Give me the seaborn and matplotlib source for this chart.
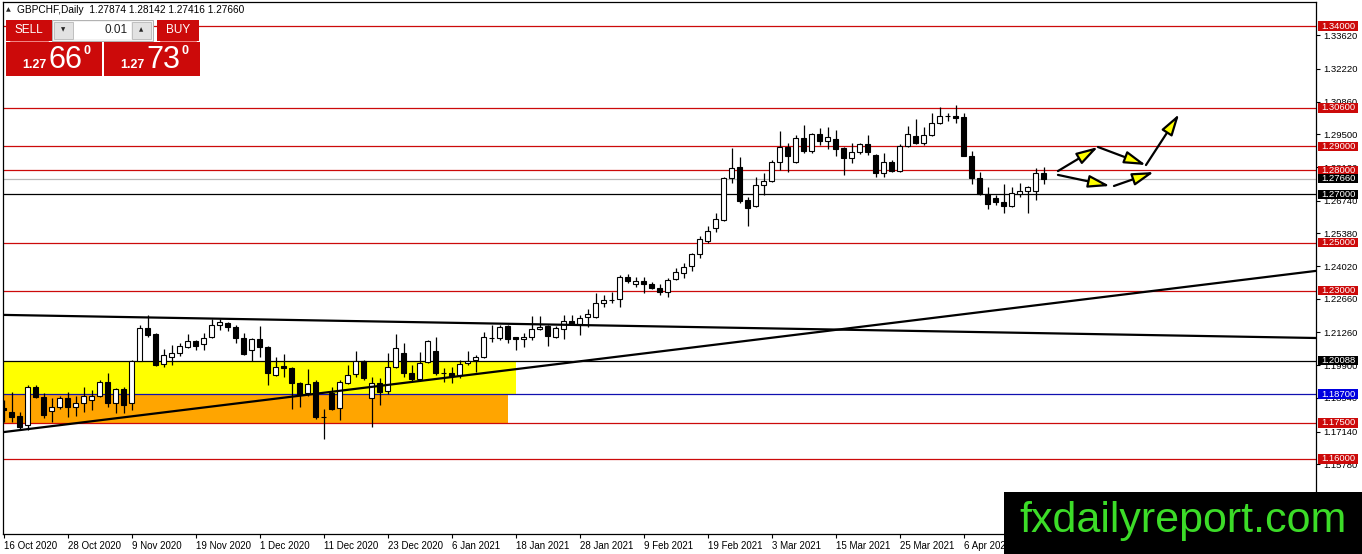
import numpy as np
import pandas as pd
import matplotlib
matplotlib.use("Agg")
import matplotlib.pyplot as plt
import seaborn as sns
from matplotlib.patches import Rectangle

# GBPCHF daily candles, 16 Oct 2020 .. Apr 2021
opens = [1.1812, 1.1796, 1.1779, 1.1741, 1.1899, 1.1858, 1.1800, 1.1816, 1.1854, 1.1816,
         1.1833, 1.1845, 1.1862, 1.1920, 1.1833, 1.1891, 1.1833, 1.2007, 1.2145, 1.2120,
         1.1995, 1.2024, 1.2041, 1.2066, 1.2090, 1.2078, 1.2107, 1.2157, 1.2166, 1.2149,
         1.2103, 1.2053, 1.2099, 1.2066, 1.1949, 1.1985, 1.1978, 1.1916, 1.1874, 1.1920,
         1.1775, 1.1874, 1.1812, 1.1916, 1.1953, 1.2007, 1.1854, 1.1916, 1.1883, 1.1983,
         1.2041, 1.1958, 1.1933, 1.2003, 1.2049, 1.1958, 1.1958, 1.1949, 1.1999, 1.2012,
         1.2024, 1.2105, 1.2103, 1.2153, 1.2107, 1.2099, 1.2107, 1.2141, 1.2153, 1.2107,
         1.2141, 1.2174, 1.2161, 1.2190, 1.2190, 1.2249, 1.2261, 1.2265, 1.2357, 1.2328,
         1.2340, 1.2328, 1.2311, 1.2294, 1.2349, 1.2374, 1.2403, 1.2452, 1.2506, 1.2560,
         1.2594, 1.2768, 1.2814, 1.2677, 1.2652, 1.2739, 1.2756, 1.2835, 1.2897, 1.2835,
         1.2934, 1.2880, 1.2951, 1.2922, 1.2930, 1.2893, 1.2851, 1.2876, 1.2909, 1.2864,
         1.2789, 1.2835, 1.2797, 1.2901, 1.2943, 1.2914, 1.2947, 1.2997, 1.3026, 1.3026,
         1.3022, 1.2860, 1.2768, 1.2702, 1.2685, 1.2669, 1.2652, 1.2702, 1.2714, 1.2714,
         1.27874]
highs = [1.1845, 1.1878, 1.1796, 1.1908, 1.1908, 1.1874, 1.1854, 1.1862, 1.1878, 1.1862,
         1.1899, 1.1887, 1.1928, 1.1958, 1.1895, 1.1899, 1.2012, 1.2157, 1.2199, 1.2124,
         1.2057, 1.2074, 1.2082, 1.2120, 1.2095, 1.2124, 1.2182, 1.2182, 1.2170, 1.2157,
         1.2124, 1.2103, 1.2153, 1.2070, 1.2024, 1.2037, 1.1983, 1.1920, 1.1974, 1.1928,
         1.1808, 1.1899, 1.1928, 1.1991, 1.2049, 1.2012, 1.1941, 1.1937, 1.2041, 1.2120,
         1.2082, 1.1991, 1.2045, 1.2095, 1.2107, 1.1978, 1.1983, 1.2012, 1.2049, 1.2032,
         1.2128, 1.2157, 1.2157, 1.2157, 1.2109, 1.2124, 1.2195, 1.2195, 1.2157, 1.2153,
         1.2199, 1.2199, 1.2199, 1.2224, 1.2290, 1.2282, 1.2294, 1.2365, 1.2370, 1.2357,
         1.2357, 1.2336, 1.2328, 1.2353, 1.2394, 1.2415, 1.2456, 1.2527, 1.2569, 1.2623,
         1.2772, 1.2893, 1.2855, 1.2689, 1.2772, 1.2789, 1.2843, 1.2963, 1.2914, 1.2947,
         1.2988, 1.2955, 1.2976, 1.2980, 1.2968, 1.2895, 1.2914, 1.2914, 1.2947, 1.2866,
         1.2872, 1.2843, 1.2909, 1.2984, 1.3013, 1.2980, 1.3038, 1.3063, 1.3038, 1.3072,
         1.3038, 1.2880, 1.2793, 1.2731, 1.2698, 1.2743, 1.2731, 1.2748, 1.2733, 1.2810,
         1.28142]
lows = [1.1754, 1.1754, 1.1721, 1.1721, 1.1854, 1.1771, 1.1754, 1.1808, 1.1775, 1.1779,
        1.1796, 1.1804, 1.1858, 1.1816, 1.1791, 1.1791, 1.1804, 1.2007, 1.2107, 1.1987,
        1.1983, 1.1991, 1.2028, 1.2061, 1.2053, 1.2053, 1.2103, 1.2136, 1.2132, 1.2082,
        1.2032, 1.2007, 1.2024, 1.1908, 1.1945, 1.1941, 1.1808, 1.1816, 1.1862, 1.1767,
        1.1683, 1.1804, 1.1762, 1.1912, 1.1941, 1.1928, 1.1733, 1.1825, 1.1870, 1.1978,
        1.1941, 1.1920, 1.1924, 1.1999, 1.1949, 1.1920, 1.1916, 1.1937, 1.1991, 1.1962,
        1.2020, 1.2086, 1.2095, 1.2082, 1.2053, 1.2066, 1.2095, 1.2136, 1.2070, 1.2103,
        1.2099, 1.2157, 1.2115, 1.2149, 1.2186, 1.2232, 1.2249, 1.2232, 1.2332, 1.2315,
        1.2290, 1.2307, 1.2282, 1.2274, 1.2344, 1.2353, 1.2382, 1.2436, 1.2498, 1.2544,
        1.2589, 1.2748, 1.2665, 1.2569, 1.2648, 1.2698, 1.2752, 1.2801, 1.2793, 1.2830,
        1.2872, 1.2872, 1.2905, 1.2889, 1.2860, 1.2781, 1.2830, 1.2868, 1.2864, 1.2772,
        1.2772, 1.2793, 1.2793, 1.2897, 1.2909, 1.2905, 1.2943, 1.2993, 1.3005, 1.2997,
        1.2858, 1.2743, 1.2698, 1.2640, 1.2656, 1.2623, 1.2648, 1.2689, 1.2623, 1.2677,
        1.27416]
closes = [1.1804, 1.1775, 1.1733, 1.1899, 1.1858, 1.1783, 1.1816, 1.1854, 1.1816, 1.1833,
          1.1862, 1.1862, 1.1920, 1.1833, 1.1891, 1.1825, 1.2007, 1.2145, 1.2115, 1.1991,
          1.2032, 1.2041, 1.2070, 1.2090, 1.2070, 1.2103, 1.2157, 1.2170, 1.2149, 1.2103,
          1.2037, 1.2099, 1.2066, 1.1958, 1.1983, 1.1980, 1.1916, 1.1870, 1.1912, 1.1775,
          1.1773, 1.1808, 1.1920, 1.1949, 1.2007, 1.1937, 1.1916, 1.1878, 1.1983, 1.2061,
          1.1958, 1.1933, 1.1999, 1.2090, 1.1958, 1.1956, 1.1947, 1.1995, 1.2007, 1.2024,
          1.2107, 1.2103, 1.2149, 1.2099, 1.2099, 1.2107, 1.2141, 1.2149, 1.2111, 1.2145,
          1.2174, 1.2161, 1.2186, 1.2203, 1.2249, 1.2261, 1.2259, 1.2357, 1.2340, 1.2340,
          1.2328, 1.2311, 1.2294, 1.2344, 1.2378, 1.2398, 1.2452, 1.2515, 1.2548, 1.2598,
          1.2768, 1.2810, 1.2673, 1.2644, 1.2739, 1.2756, 1.2835, 1.2897, 1.2860, 1.2934,
          1.2880, 1.2951, 1.2922, 1.2939, 1.2889, 1.2851, 1.2876, 1.2909, 1.2876, 1.2789,
          1.2835, 1.2797, 1.2901, 1.2951, 1.2914, 1.2947, 1.2997, 1.3026, 1.3024, 1.3018,
          1.2860, 1.2768, 1.2702, 1.2660, 1.2669, 1.2652, 1.2706, 1.2714, 1.2731, 1.2789,
          1.27660]

date_labels = ["16 Oct 2020", "28 Oct 2020", "9 Nov 2020", "19 Nov 2020", "1 Dec 2020",
               "11 Dec 2020", "23 Dec 2020", "6 Jan 2021", "18 Jan 2021", "28 Jan 2021",
               "9 Feb 2021", "19 Feb 2021", "3 Mar 2021", "15 Mar 2021", "25 Mar 2021",
               "6 Apr 2021"]
bars_per_label = 8

price_ticks = [1.33620, 1.32220, 1.30860, 1.29500, 1.28120, 1.26740, 1.25380, 1.24020,
               1.22660, 1.21260, 1.19900, 1.18540, 1.17140, 1.15780]

red_levels = [1.34000, 1.30600, 1.29000, 1.28000, 1.25000, 1.23000, 1.17500, 1.16000]
black_levels = [1.27000, 1.20088]
blue_levels = [1.18700]
bid_price = 1.27660
header = "GBPCHF,Daily  1.27874 1.28142 1.27416 1.27660"

# boxes: bar index range and price range
yellow_zone = (-1, 64, 1.18700, 1.20088)
orange_zone = (-1, 63, 1.17500, 1.18700)

# trend lines (bar index, price)
down_trend_x = [0, 164]
down_trend_y = [1.2199, 1.2103]
up_trend_x = [0, 164]
up_trend_y = [1.1712, 1.2382]

# forecast arrows (start -> end), bar index / price
arrow_x0 = [131.75, 136.75, 142.75, 131.75, 138.75]
arrow_y0 = [1.2797, 1.2897, 1.2822, 1.2781, 1.2735]
arrow_x1 = [136.75, 142.75, 146.9, 138.25, 143.75]
arrow_y1 = [1.2897, 1.2822, 1.3034, 1.2735, 1.2793]

RED = "#cc0a0a"
W, H = 1362, 554
Y0, Y1 = 1.12882, 1.34998

sns.set_theme(style="white")
plt.rcParams["font.family"] = ["Liberation Sans", "DejaVu Sans"]

fig = plt.figure(figsize=(W / 100, H / 100), dpi=100)
fig.patch.set_facecolor("white")
ax = fig.add_axes([3 / W, (H - 534) / H, (1316 - 3) / W, (534 - 2) / H])
ax.set_facecolor("white")

df = pd.DataFrame({"o": opens, "h": highs, "l": lows, "c": closes})
df["i"] = np.arange(len(df))
up = df["c"] >= df["o"]
body_lo = df[["o", "c"]].min(axis=1)
body_h = (df["c"] - df["o"]).abs().clip(lower=0.00003)

# zones
for (x0, x1, y0, y1), col in [(yellow_zone, "#ffff00"), (orange_zone, "#ffa500")]:
    ax.add_patch(Rectangle((x0, y0), x1 - x0, y1 - y0, fc=col, ec="none", zorder=1))

# horizontal levels
for lv in red_levels:
    ax.axhline(lv, color=RED, lw=0.9, zorder=2)
for lv in black_levels:
    ax.axhline(lv, color="black", lw=0.9, zorder=2)
for lv in blue_levels:
    ax.axhline(lv, color="#1010b0", lw=0.9, zorder=2)
ax.axhline(bid_price, color="#b8b8b8", lw=0.9, zorder=2)

# candles
ax.vlines(df["i"], df["l"], df["h"], color="black", lw=0.9, zorder=3)
ax.bar(df["i"], body_h, bottom=body_lo, width=0.62,
       color=np.where(up, "white", "black"), edgecolor="black", lw=0.8, zorder=4)

# trend lines
sns.lineplot(x=down_trend_x, y=down_trend_y, color="black", lw=1.6, ax=ax, zorder=5)
sns.lineplot(x=up_trend_x, y=up_trend_y, color="black", lw=1.6, ax=ax, zorder=5)

# arrows
for xa, ya, xb, yb in zip(arrow_x0, arrow_y0, arrow_x1, arrow_y1):
    ax.annotate("", xy=(xb, yb), xytext=(xa, ya), zorder=6,
                arrowprops=dict(arrowstyle="-|>,head_length=1.3,head_width=0.38",
                                fc="#ffff00", ec="black", lw=1.6, mutation_scale=10,
                                shrinkA=0, shrinkB=0))

ax.set_xlim(-0.1, 164.0)
ax.set_ylim(Y0, Y1)

# axes / ticks
for s in ax.spines.values():
    s.set_color("black")
    s.set_linewidth(0.9)
ax.yaxis.tick_right()
ax.set_yticks(price_ticks)
ax.set_yticklabels([f"{t:.5f}" for t in price_ticks])
ax.set_xticks([k * bars_per_label for k in range(len(date_labels))])
ax.set_xticklabels(date_labels)
for lab in ax.get_xticklabels():
    lab.set_ha("left")
ax.tick_params(axis="y", direction="out", length=3, width=0.8, labelsize=6.8,
               pad=2, colors="black", right=True, left=False)
ax.tick_params(axis="x", direction="out", length=3, width=0.8, labelsize=7,
               pad=2, colors="black", bottom=True)
ax.grid(False)
ax.set_xlabel("")
ax.set_ylabel("")

# price tags at the right: fixed-size boxes (about 40 x 9 px)
ytr = ax.get_yaxis_transform()
tag_w = 40 / 1313
tag_h = 9.5 * (Y1 - Y0) / 532
tags = [(lv, RED) for lv in red_levels] + [(lv, "black") for lv in black_levels] \
    + [(lv, "#0000e0") for lv in blue_levels] + [(bid_price, "black")]
for lv, col in tags:
    ax.add_patch(Rectangle((1.0015, lv - tag_h / 2), tag_w, tag_h, transform=ytr,
                           fc=col, ec="none", clip_on=False, zorder=8))
    ax.text(1.0015 + tag_w / 2, lv, f"{lv:.5f}", transform=ytr, ha="center",
            va="center", fontsize=6.8, color="white", clip_on=False, zorder=9)

# overlay in pixel coordinates: trading panel, header, watermark
ov = fig.add_axes([0, 0, 1, 1], zorder=10)
ov.set_xlim(0, W)
ov.set_ylim(H, 0)
ov.axis("off")
ov.patch.set_alpha(0)

ov.text(6, 10, "\u25b2", fontsize=4.5, va="center", ha="left", family=["DejaVu Sans"])
ov.text(17, 10, header, fontsize=7.3, va="center", ha="left", color="black")

ov.add_patch(Rectangle((6, 20), 46, 21, fc=RED, ec="none"))
ov.add_patch(Rectangle((157, 20), 42, 21, fc=RED, ec="none"))
ov.text(29, 30, "SELL", color="white", fontsize=8.5, ha="center", va="center")
ov.text(178, 30, "BUY", color="white", fontsize=8.5, ha="center", va="center")
ov.plot([10, 48], [40.5, 40.5], color="#f08080", lw=0.7)
ov.plot([160, 196], [40.5, 40.5], color="#f08080", lw=0.7)

ov.add_patch(Rectangle((52, 20), 101, 21, fc="#f2f2f2", ec="#b0b0b0", lw=0.7))
ov.add_patch(Rectangle((54, 22), 19, 17, fc="#e2e2e2", ec="#b8b8b8", lw=0.6))
ov.add_patch(Rectangle((74, 22), 57, 17, fc="white", ec="none"))
ov.add_patch(Rectangle((132, 22), 19, 17, fc="#e2e2e2", ec="#b8b8b8", lw=0.6))
ov.text(63.5, 30, "\u25bc", fontsize=4, ha="center", va="center", family=["DejaVu Sans"])
ov.text(141.5, 30, "\u25b2", fontsize=4, ha="center", va="center", family=["DejaVu Sans"])
ov.text(128, 30, "0.01", fontsize=8.5, ha="right", va="center", color="#202020")

for x0, pips in [(6, "66"), (104, "73")]:
    ov.add_patch(Rectangle((x0, 42), 96, 34, fc=RED, ec="none"))
    ov.text(x0 + 16, 65, "1.27", color="white", fontsize=9, fontweight="bold",
            ha="left", va="center")
    ov.text(x0 + 42, 60, pips, color="white", fontsize=22, ha="left", va="center")
    ov.text(x0 + 81, 51, "0", color="white", fontsize=9, fontweight="bold",
            ha="center", va="center")

ov.add_patch(Rectangle((1004, 492), 358, 62, fc="black", ec="none"))
ov.text(1183, 521, "fxdailyreport.com", color="#3cdc28", fontsize=31,
        ha="center", va="center", family=["Liberation Sans"])

fig.savefig("out.png", dpi=100)
